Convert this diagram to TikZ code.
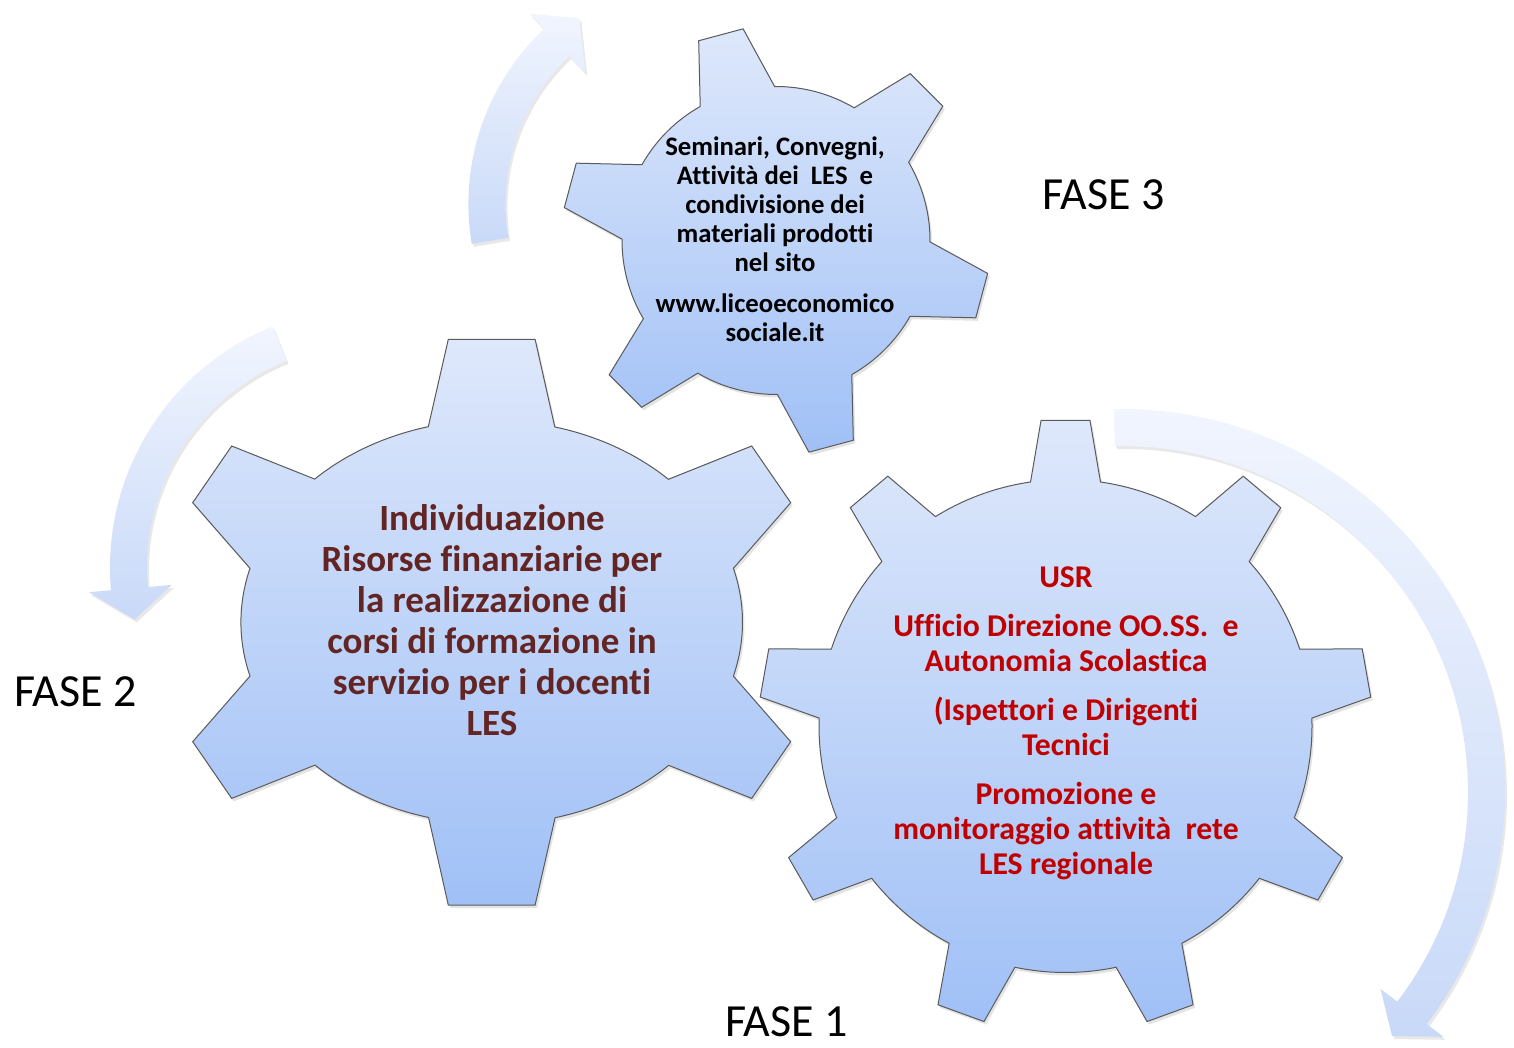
\documentclass[tikz,border=0pt]{standalone}
\usepackage{fontspec}
\setmainfont{Carlito}[Ligatures=NoCommon]
\usetikzlibrary{shadows}
\definecolor{gearTop}{RGB}{222,232,251}
\definecolor{gearBot}{RGB}{160,192,246}
\definecolor{arrTop}{RGB}{241,245,254}
\definecolor{arrBot}{RGB}{200,217,248}
\definecolor{gearLine}{RGB}{90,90,90}
\definecolor{txtRed}{RGB}{192,0,0}
\definecolor{txtBrown}{RGB}{99,37,35}
\tikzset{
  gearshape/.style={top color=gearTop, bottom color=gearBot, draw=gearLine, line width=1pt,
    drop shadow={shadow xshift=2pt, shadow yshift=-3pt, opacity=0.22}},
  arrowshape/.style={top color=arrTop, bottom color=arrBot,
    drop shadow={shadow xshift=2pt, shadow yshift=-3pt, opacity=0.18}},
  fase/.style={font=\fontsize{46}{50}\selectfont, text=black, inner sep=0pt, text depth=0pt},
  geartext/.style={align=center, inner sep=0pt, font=\bfseries},
}
\begin{document}
\begin{tikzpicture}[x=1pt,y=1pt]
\fill[white] (0,0) rectangle (1514,-1048);
\useasboundingbox (0,0) rectangle (1514,-1048);

% ---- curved arrows ----
% arrow A (top, near FASE 3 gear)
\begin{scope}[shift={(708.4,-203.9)}]
\path[arrowshape] (189.6:240) arc[start angle=189.6, end angle=133.2, radius=240]
  -- (133.2:261) -- (124.8:226) -- (133.2:180) -- (133.2:203)
  arc[start angle=133.2, end angle=189.6, radius=203] -- cycle;
\end{scope}
% arrow B (left)
\begin{scope}[shift={(370,-567.6)}]
\path[arrowshape] (112:260) arc[start angle=112, end angle=185, radius=260]
  -- (185:282) -- (192.4:241) -- (185:199) -- (185:223)
  arc[start angle=185, end angle=112, radius=223] -- cycle;
\end{scope}
% arrow C (right)
\begin{scope}[shift={(1122,-792)}]
\path[arrowshape] (91.2:383) arc[start angle=91.2, end angle=-37.3, radius=383]
  -- (-37.3:404) -- (-42.1:364) -- (-37.3:325) -- (-37.3:346)
  arc[start angle=-37.3, end angle=91.2, radius=346] -- cycle;
\end{scope}

% ---- gear 3 (top) ----
\begin{scope}[shift={(776,-240.5)}]
\path[gearshape] ({105-14.48}:154)
  \foreach \k in {0,...,5} {
    -- ({105+60*\k-6.16}:214.2) -- ({105+60*\k+6.16}:214.2) -- ({105+60*\k+14.48}:154)
    arc[start angle={105+60*\k+14.48}, end angle={105+60*(\k+1)-14.48}, radius=154]
  } -- cycle;
\end{scope}

% ---- gear 2 (left, slightly elliptical) ----
\begin{scope}[shift={(491.7,-622.2)}]
\path[gearshape] (241.7,-53.9)
  arc[start angle=-15.47, end angle=15.47, x radius=250.8, y radius=202.1]
  -- (299,119.5) -- (260,176.2) -- (176.7,142.9)
  arc[start angle=45.1, end angle=75.35, x radius=250.8, y radius=202.1]
  -- (43.4,282.9) -- (-43.4,282.9) -- (-63.4,195.5)
  arc[start angle=104.65, end angle=134.9, x radius=250.8, y radius=202.1]
  -- (-260,176.2) -- (-299,119.5) -- (-241.7,53.9)
  arc[start angle=164.53, end angle=195.47, x radius=250.8, y radius=202.1]
  -- (-299,-119.5) -- (-260,-176.2) -- (-176.7,-142.9)
  arc[start angle=225.1, end angle=255.35, x radius=250.8, y radius=202.1]
  -- (-43.4,-282.9) -- (43.4,-282.9) -- (63.4,-195.5)
  arc[start angle=284.65, end angle=314.9, x radius=250.8, y radius=202.1]
  -- (260,-176.2) -- (299,-119.5) -- cycle;
\end{scope}

% ---- gear 1 (bottom right) ----
\begin{scope}[shift={(1065.5,-726)}]
\path[gearshape] ({90-8.16}:246.5)
  \foreach \k in {0,...,8} {
    -- ({90+40*\k-4.58}:306.6) -- ({90+40*\k+4.58}:306.6) -- ({90+40*\k+8.16}:246.5)
    arc[start angle={90+40*\k+8.16}, end angle={90+40*(\k+1)-8.16}, radius=246.5]
  } -- cycle;
\end{scope}

% ---- texts ----
\node[geartext, text=black, font=\bfseries\fontsize{26.7}{29}\selectfont] (t3) at (775,-239.5)
  {Seminari, Convegni,\\ Attività dei~~LES~~e\\ condivisione dei\\ materiali prodotti\\ nel sito\\[12pt] www.liceoeconomico\\ sociale.it};
\node[geartext, text=txtBrown, font=\bfseries\fontsize{37}{41}\selectfont] (t2) at (492,-620.5)
  {Individuazione\\ Risorse finanziarie per\\ la realizzazione di\\ corsi di formazione in\\ servizio per i docenti\\ LES};
\node[geartext, text=txtRed, font=\bfseries\fontsize{31.7}{35}\selectfont] (t1) at (1066,-723.5)
  {USR\\[14pt] Ufficio Direzione OO.SS.~~e\\ Autonomia Scolastica\\[14pt] (Ispettori e Dirigenti\\ Tecnici\\[14pt] Promozione e\\ monitoraggio attività~~rete\\ LES regionale};

\node[fase, anchor=base west] (f3) at (1042,-210) {FASE 3};
\node[fase, anchor=base west] (f2) at (14,-706.7) {FASE 2};
\node[fase, anchor=base west] (f1) at (725,-1036) {FASE 1};
\end{tikzpicture}
\end{document}
